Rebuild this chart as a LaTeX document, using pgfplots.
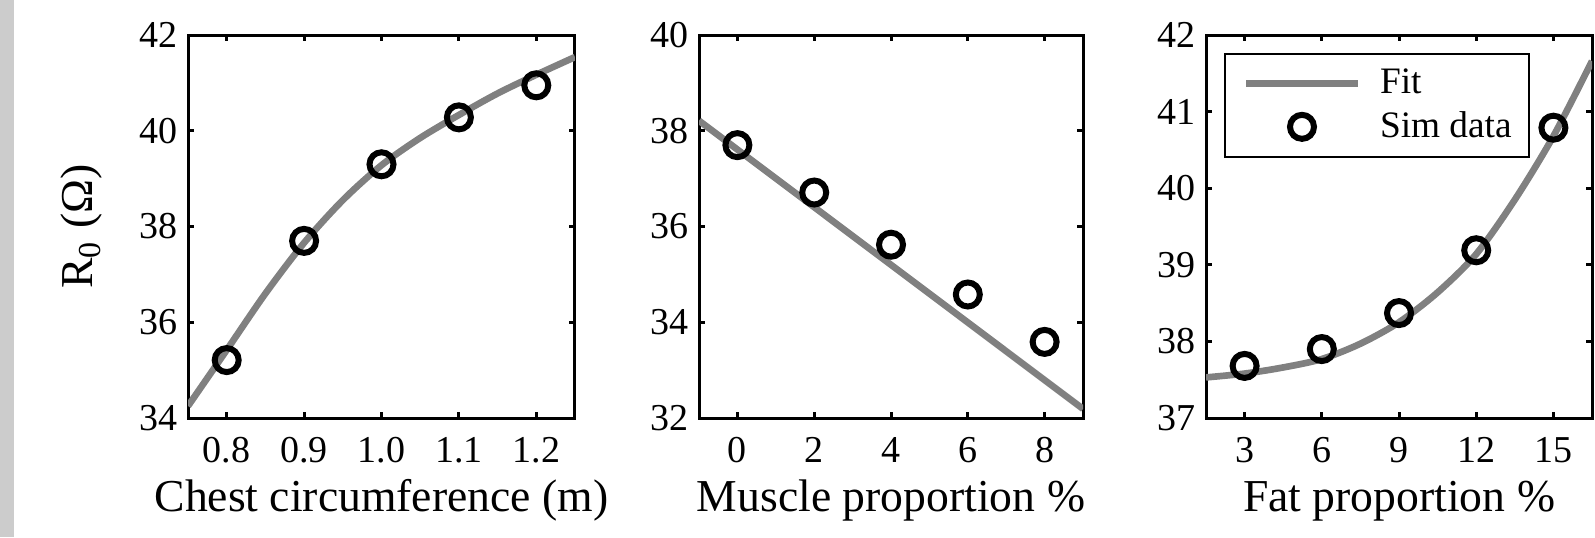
\documentclass[border=0pt]{standalone}
\usepackage{fontspec}
\setmainfont{Liberation Serif}
\usepackage{pgfplots}
\pgfplotsset{compat=1.18}

\definecolor{fitgray}{RGB}{128,128,128}
\definecolor{stripgray}{RGB}{204,204,204}

\pgfplotsset{
  panel/.style={
    scale only axis,
    height=114.9pt,
    anchor=south west,
    axis line style={line width=0.9pt},
    tick style={black, line width=0.9pt},
    major tick length=1.8pt,
    tick align=inside,
    /pgf/number format/assume math mode=true,
    tick label style={font=\fontsize{11.4}{13}\selectfont},
    xticklabel style={anchor=base, yshift=-13.2pt},
    yticklabel style={anchor=east, inner xsep=0pt, xshift=-3pt},
    label style={font=\fontsize{13.7}{16}\selectfont},
    xlabel style={at={(axis description cs:0.5,-0.2454)}, anchor=base},
  },
  fit/.style={color=fitgray, line width=2pt, no marks, smooth},
  sim/.style={only marks, mark=o, mark size=3.6pt,
    mark options={line width=1.8pt, draw=black}},
  fitleg/.style={legend image code/.code={\draw[##1] (0pt,0pt) -- (33.6pt,0pt);}},
  simleg/.style={legend image code/.code={\draw[mark repeat=2,mark phase=2,##1]
    plot coordinates {(0pt,0pt) (16.8pt,0pt) (33.6pt,0pt)};}},
}

\begin{document}
\begin{tikzpicture}
\useasboundingbox (0pt,0pt) rectangle (478.5pt,161.1pt);
\fill[stripgray] (0pt,0pt) rectangle (4.2pt,161.1pt);

% --- chest circumference ---
\begin{axis}[panel,
  at={(56.4pt,35.7pt)}, width=116.1pt,
  xmin=0.75, xmax=1.25, ymin=34, ymax=42,
  xtick={0.8,0.9,1.0,1.1,1.2}, ytick={34,36,38,40,42},
  xticklabel style={/pgf/number format/.cd, fixed, fixed zerofill, precision=1},
  xlabel={Chest circumference (m)},
  ylabel={R\textsubscript{0} (Ω)},
  ylabel style={at={(axis description cs:-0.2455,0.5)}, anchor=base},
]
\addplot[fit] coordinates {
  (0.75,34.25) (0.80,35.42) (0.85,36.60) (0.90,37.66) (0.95,38.55)
  (1.00,39.28) (1.05,39.85) (1.10,40.33) (1.15,40.78) (1.20,41.17) (1.25,41.54)
};
\addplot[sim] coordinates {
  (0.8,35.21) (0.9,37.70) (1.0,39.30) (1.1,40.28) (1.2,40.95)
};
\end{axis}

% --- muscle proportion ---
\begin{axis}[panel,
  at={(209.7pt,35.7pt)}, width=115.2pt,
  xmin=-1, xmax=9, ymin=32, ymax=40,
  xtick={0,2,4,6,8}, ytick={32,34,36,38,40},
  xlabel={Muscle proportion \%},
]
\addplot[fit] coordinates {(-1,38.21) (9,32.19)};
\addplot[sim] coordinates {
  (0,37.70) (2,36.71) (4,35.62) (6,34.58) (8,33.59)
};
\end{axis}

% --- fat proportion ---
\begin{axis}[panel,
  at={(361.8pt,35.7pt)}, width=115.8pt,
  xmin=1.5, xmax=16.5, ymin=37, ymax=42,
  xtick={3,6,9,12,15}, ytick={37,38,39,40,41,42},
  xlabel={Fat proportion \%},
  legend style={at={(axis description cs:0.0466,0.953)}, anchor=north west,
    draw=black, line width=0.6pt, fill=white,
    font=\fontsize{11.2}{13}\selectfont,
    inner xsep=5.3pt, inner ysep=4.3pt, row sep=4pt,
    nodes={inner sep=0pt},
    /tikz/every odd column/.append style={column sep=5.6pt},
    cells={anchor=west}},
]
\addplot[fit, fitleg] coordinates {
  (1.5,37.53) (3,37.58) (4.5,37.66) (6,37.77) (7.5,37.97) (9,38.25)
  (10.5,38.64) (12,39.14) (13.5,39.85) (15,40.68) (16.5,41.66)
};
\addlegendentry{Fit}
\addplot[sim, simleg] coordinates {
  (3,37.68) (6,37.90) (9,38.37) (12,39.19) (15,40.79)
};
\addlegendentry{Sim data}
\end{axis}
\end{tikzpicture}
\end{document}
